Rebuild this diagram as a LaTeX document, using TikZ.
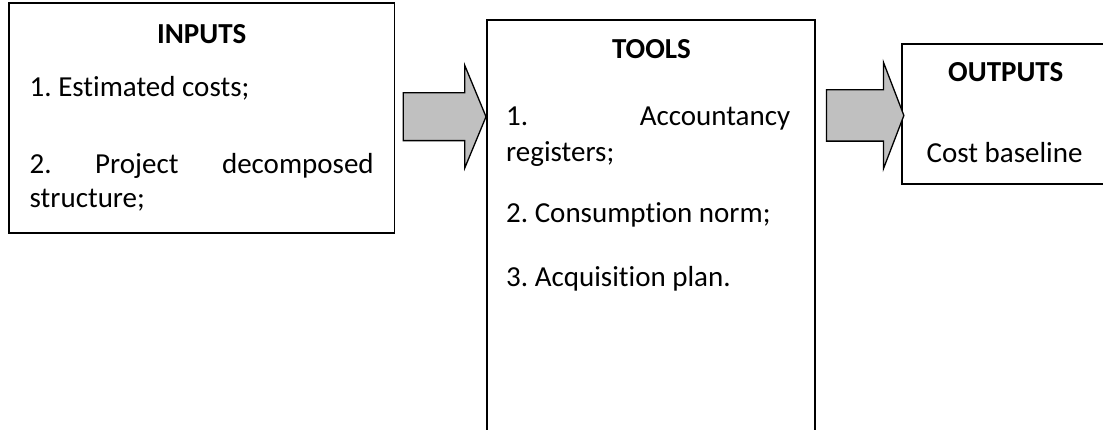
\documentclass[tikz,border=0pt]{standalone}
\usepackage{fontspec}
\setmainfont{Carlito}[Ligatures={NoCommon,NoRequired,NoContextual}]
\usetikzlibrary{shapes.arrows}
\definecolor{arrowgray}{HTML}{C0C0C0}
\tikzset{
  panel/.style={draw=black, line width=1.7pt, rectangle, inner sep=0pt},
  heading/.style={inner sep=0pt, anchor=base, font=\fontsize{29}{35}\selectfont\bfseries},
  item/.style={inner sep=0pt, anchor=base west, font=\fontsize{29}{35}\selectfont},
  blockarrow/.style={single arrow, draw=black, fill=arrowgray, line width=1.3pt,
    inner xsep=0pt, text height=0pt, text depth=0pt, single arrow head indent=0pt}
}
\frenchspacing
\begin{document}
\begin{tikzpicture}[x=1pt,y=-1pt]
  \clip (0,0) rectangle (1103,430);
  \fill[white] (0,0) rectangle (1103,430);

  % the three panels
  \node[panel, minimum width=385.5pt, minimum height=230pt] (inputs) at (201.7,118) {};
  \node[panel, minimum width=328pt, minimum height=440pt] (tools) at (651,240) {};
  \node[panel, minimum width=220pt, minimum height=140pt] (outputs) at (1012,114) {};

  % inputs panel text
  \node[heading] (inTitle) at (201.7,43.3) {INPUTS};
  \node[item] (inA) at (29.5,96.7) {1. Estimated costs;};
  \node[item] (inB) at (29.5,173.3) {\hbox to 344pt{2.\hfill Project\hfill decomposed}};
  \node[item] (inC) at (29.5,208) {structure;};

  % tools panel text
  \node[heading] (toolTitle) at (651.5,59) {TOOLS};
  \node[item] (toolA) at (506,126) {\hbox to 284pt{1.\hfill Accountancy}};
  \node[item] (toolB) at (506,161.7) {registers;};
  \node[item] (toolC) at (506,223) {2. Consumption norm;};
  \node[item] (toolD) at (506,287) {3. Acquisition plan.};

  % outputs panel text
  \node[heading] (outTitle) at (1005.8,82) {OUTPUTS};
  \node[item] (outA) at (926.5,163) {Cost baseline};

  % block arrows between the panels
  \node[blockarrow, inner ysep=23.3pt, single arrow head extend=27.5pt,
        single arrow tip angle=135, minimum height=82.7pt] (arrowA) at (439.7,116.7) {};
  \node[blockarrow, inner ysep=25pt, single arrow head extend=27.5pt,
        single arrow tip angle=138, minimum height=77.3pt] (arrowB) at (860.3,115.5) {};
\end{tikzpicture}
\end{document}
